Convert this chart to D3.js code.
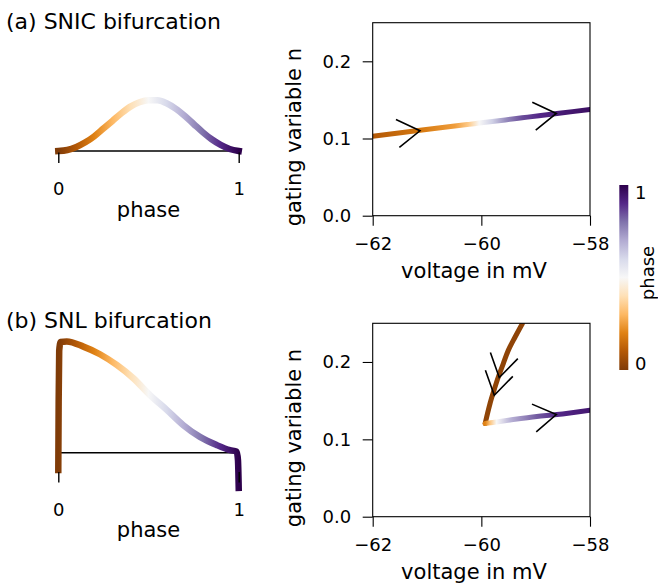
<!DOCTYPE html>
<html><head><meta charset="utf-8">
<script src="https://cdn.jsdelivr.net/npm/d3@7"></script>
<style>
html,body{margin:0;padding:0;background:#fff;}
svg{display:block;font-family:"DejaVu Sans",sans-serif;}
</style></head><body>
<svg id="chart" width="658" height="584"></svg>
<script>
// ---------------- data ----------------
// (a) SNIC: phase curve
const phaseA = [0,0.05,0.1,0.15,0.2,0.25,0.3,0.35,0.4,0.45,0.5,0.55,0.6,0.65,0.7,0.75,0.8,0.85,0.9,0.95,1];
const prcA   = [0,0.02,0.08,0.17,0.29,0.44,0.59,0.74,0.87,0.955,0.995,0.995,0.935,0.83,0.69,0.53,0.37,0.23,0.12,0.04,0];
// (b) SNL: phase curve
const phaseB = [0,0.002,0.005,0.013,0.047,0.139,0.231,0.324,0.416,0.508,0.601,0.693,0.785,0.878,0.952,0.989,0.996,1.0];
const prcB   = [-0.34,1.0,2.0,2.17,2.18,2.08,1.93,1.72,1.46,1.13,0.84,0.54,0.31,0.15,0.05,0.02,-0.15,-0.69];
// (a) phase plane trajectory
const trajV_A     = [-62.0,-61.09,-60.49,-60.23,-60.04,-59.8,-59.56,-59.25,-58.94,-58.57,-58.0];
const trajN_A     = [0.103,0.1109,0.1161,0.1183,0.120,0.1220,0.1241,0.1268,0.1295,0.1327,0.1376];
const trajPhase_A = [0.1,0.18,0.25,0.35,0.5,0.62,0.75,0.85,0.9,0.93,0.96];
// (b) phase plane: returning branch and slow branch
const returnV_B     = [-59.93,-59.84,-59.767,-59.688,-59.596,-59.504,-59.381,-59.246];
const returnN_B     = [0.1205,0.1463,0.1635,0.1806,0.198,0.215,0.232,0.2495];
const returnPhase_B = [0.03,0.03,0.03,0.03,0.03,0.03,0.03,0.03];
const slowV_B     = [-59.93,-59.84,-59.72,-59.47,-58.98,-58.61,-58.0];
const slowN_B     = [0.1205,0.1213,0.1225,0.125,0.1295,0.132,0.1377];
const slowPhase_B = [0.2,0.33,0.5,0.68,0.83,0.9,0.94];
// arrow heads (tip and a point behind it, data coords)
const arrowTipsA  = [[-61.13,0.110],[-58.62,0.1325]];
const arrowTailsA = [[-61.5,0.1068],[-59.0,0.1292]];
const arrowTipsB  = [[-59.67,0.1799],[-59.762,0.157],[-58.62,0.132]];
const arrowTailsB = [[-59.591,0.2051],[-59.683,0.1822],[-58.99,0.128]];
// ticks & labels
const phaseTicks = [0,1];
const vTicks = [-62,-60,-58];
const nTicks = [0.0,0.1,0.2];
const cbarTicks = [0,1];
const titles = ["(a) SNIC bifurcation","(b) SNL bifurcation"];
const pmColors = ["#7f3b08","#b35806","#e08214","#fdb863","#fee0b6","#f7f7f7","#d8daeb","#b2abd2","#8073ac","#542788","#2d004b"];

// ---------------- setup ----------------
const svg = d3.select("#chart");
const defs = svg.append("defs");
const cmap = d3.scaleLinear().domain(d3.range(11).map(i=>i/10)).range(pmColors).interpolate(d3.interpolateRgb);
const FONT_TICK = 18, FONT_LAB = 21, FONT_TITLE = 22;

// ---------- left panels ----------
const xL = d3.scaleLinear().domain([0,1]).range([58.3,238.7]);
const leftPanels = [
  {phase: phaseA, val: prcA, y: d3.scaleLinear().domain([0,1]).range([151,100]), ymin:-0.03, dy:0, title: titles[0]},
  {phase: phaseB, val: prcB, y: d3.scaleLinear().domain([0,1]).range([452.7,401.7]), ymin:-0.38, dy:320.5, title: titles[1]}
];
const gl = defs.append("linearGradient").attr("id","gradLeft")
  .attr("gradientUnits","userSpaceOnUse")
  .attr("x1",xL(0)).attr("x2",xL(1)).attr("y1",0).attr("y2",0);
d3.range(11).forEach(i=>gl.append("stop").attr("offset",i/10).attr("stop-color",cmap(i/10)));

leftPanels.forEach((p,k)=>{
  svg.append("text").attr("x",6).attr("y",28.5+k*299).attr("font-size",FONT_TITLE).attr("fill","#000").text(p.title);
  svg.append("line").attr("x1",xL(0)).attr("x2",xL(1)).attr("y1",p.y(0)).attr("y2",p.y(0))
    .attr("stroke","#000").attr("stroke-width",1.5);
  const line = d3.line().x((d,i)=>xL(p.phase[i])).y((d,i)=>p.y(p.val[i])).curve(d3.curveMonotoneX);
  svg.append("path").attr("d",line(p.phase)).attr("fill","none")
    .attr("stroke","url(#gradLeft)").attr("stroke-width",6.5)
    .attr("stroke-linecap","square").attr("stroke-linejoin","round");
  const ax = svg.append("g").attr("transform",`translate(0,${p.y(p.ymin)})`)
    .call(d3.axisBottom(xL).tickValues(phaseTicks).tickFormat(d3.format("d")).tickSize(10.5).tickPadding(9));
  ax.select(".domain").remove();
  ax.selectAll(".tick line").attr("stroke","#000").attr("stroke-width",1.4);
  ax.selectAll(".tick text").attr("font-size",FONT_TICK).attr("font-family","DejaVu Sans").attr("fill","#000")
    .attr("dy",null).attr("y",195.5+p.dy - p.y(p.ymin));
  svg.append("text").attr("x",(xL(0)+xL(1))/2).attr("y",216.7+p.dy).attr("text-anchor","middle")
    .attr("font-size",FONT_LAB).attr("fill","#000").text("phase");
});

// ---------- right panels ----------
const xR = d3.scaleLinear().domain([-62,-58]).range([372.7,590]);
const rightPanels = [
  {top:22.7, bottom:215.7, paths:[{V:trajV_A,N:trajN_A,P:trajPhase_A}], tips:arrowTipsA, tails:arrowTailsA},
  {top:323.3, bottom:516.7, paths:[{V:returnV_B,N:returnN_B,P:returnPhase_B},{V:slowV_B,N:slowN_B,P:slowPhase_B}], tips:arrowTipsB, tails:arrowTailsB}
];
rightPanels.forEach((p,k)=>{
  const y = d3.scaleLinear().domain([0,0.25]).range([p.bottom,p.top]);
  const cid = "clipR"+k;
  defs.append("clipPath").attr("id",cid).append("rect")
    .attr("x",xR.range()[0]).attr("y",p.top).attr("width",xR.range()[1]-xR.range()[0]).attr("height",p.bottom-p.top);
  const g = svg.append("g").attr("clip-path",`url(#${cid})`);
  p.paths.forEach((tr,j)=>{
    const gid = `gradR${k}_${j}`;
    const x1 = xR(tr.V[0]), x2 = xR(tr.V[tr.V.length-1]);
    const grad = defs.append("linearGradient").attr("id",gid).attr("gradientUnits","userSpaceOnUse")
      .attr("x1",x1).attr("x2",x2).attr("y1",0).attr("y2",0);
    tr.V.forEach((v,i)=>grad.append("stop").attr("offset",(xR(v)-x1)/(x2-x1)).attr("stop-color",cmap(tr.P[i])));
    const pts = tr.V.map((v,i)=>i);
    const lineGen = d3.line().x(i=>xR(tr.V[i])).y(i=>y(tr.N[i])).curve(d3.curveCatmullRom);
    const allSame = tr.P.every(q=>q===tr.P[0]);
    g.append("path").attr("d",lineGen(pts)).attr("fill","none")
      .attr("stroke", allSame ? cmap(tr.P[0]) : `url(#${gid})`)
      .attr("stroke-width",5).attr("stroke-linecap","round").attr("stroke-linejoin","round");
  });
  p.tips.forEach((t,i)=>{
    const tx = xR(t[0]), ty = y(t[1]);
    const bx = xR(p.tails[i][0]), by = y(p.tails[i][1]);
    let ux = tx-bx, uy = ty-by; const L = Math.hypot(ux,uy); ux/=L; uy/=L;
    const a = 32*Math.PI/180, len = 26.5;
    const arm = s=>{ const c=Math.cos(s*a), sn=Math.sin(s*a);
      const rx = ux*c - uy*sn, ry = ux*sn + uy*c; return [tx-len*rx, ty-len*ry]; };
    const A1 = arm(1), A2 = arm(-1);
    svg.append("path").attr("d",`M${A1[0]},${A1[1]}L${tx},${ty}L${A2[0]},${A2[1]}`)
      .attr("fill","none").attr("stroke","#000").attr("stroke-width",1.6);
  });
  svg.append("rect").attr("x",xR.range()[0]).attr("y",p.top).attr("width",xR.range()[1]-xR.range()[0]).attr("height",p.bottom-p.top)
    .attr("fill","none").attr("stroke","#000").attr("stroke-width",1.1);
  const ax = svg.append("g").attr("transform",`translate(0,${p.bottom})`)
    .call(d3.axisBottom(xR).tickValues(vTicks).tickFormat(d3.format("d")).tickSize(10).tickPadding(12));
  const ay = svg.append("g").attr("transform",`translate(${xR.range()[0]},0)`)
    .call(d3.axisLeft(y).tickValues(nTicks).tickFormat(d3.format(".1f")).tickSize(10).tickPadding(11.5));
  [ax,ay].forEach(a=>{
    a.select(".domain").remove();
    a.selectAll(".tick line").attr("stroke","#000").attr("stroke-width",1.1);
    a.selectAll(".tick text").attr("font-size",FONT_TICK).attr("font-family","DejaVu Sans").attr("fill","#000");
  });
  svg.append("text").attr("x",474).attr("y",p.bottom+62.6).attr("text-anchor","middle")
    .attr("font-size",FONT_LAB).attr("fill","#000").text("voltage in mV");
  svg.append("text").attr("transform",`translate(301,${(p.top+p.bottom)/2+18}) rotate(-90)`).attr("text-anchor","middle")
    .attr("font-size",FONT_LAB).attr("fill","#000").text("gating variable n");
});

// ---------- colorbar ----------
const cbX = 619.3, cbW = 9, cbTop = 185, cbBot = 370;
const cbScale = d3.scaleLinear().domain([-0.04,1.044]).range([cbBot,cbTop]);
const gc = defs.append("linearGradient").attr("id","gradCbar").attr("x1",0).attr("x2",0).attr("y1",1).attr("y2",0);
d3.range(11).forEach(i=>gc.append("stop").attr("offset",i/10).attr("stop-color",cmap(i/10)));
svg.append("rect").attr("x",cbX).attr("y",cbTop).attr("width",cbW).attr("height",cbBot-cbTop).attr("fill","url(#gradCbar)");
svg.selectAll("text.cbt").data(cbarTicks).join("text").attr("class","cbt")
  .attr("x",635).attr("y",d=>cbScale(d)).attr("dy","0.36em")
  .attr("font-size",FONT_TICK).attr("fill","#000").text(d=>d3.format("d")(d));
svg.append("text").attr("transform",`translate(653.5,273) rotate(-90)`).attr("text-anchor","middle")
  .attr("font-size",18).attr("fill","#000").text("phase");
</script>
</body></html>
